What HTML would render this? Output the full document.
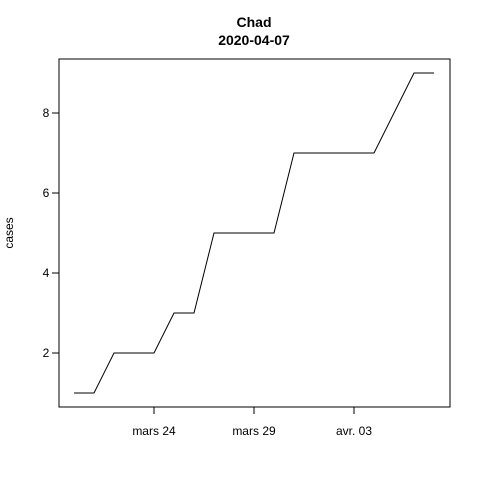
<!DOCTYPE html>
<html><head><meta charset="utf-8"><style>body{margin:0;background:#fff}svg{display:block}text{font-family:"Liberation Sans",sans-serif;font-size:12px;fill:#000}</style></head>
<body>
<svg id="chart" width="480" height="480" viewBox="0 0 480 480">
<rect width="480" height="480" fill="#fff"/>
<text x="254" y="27" text-anchor="middle" style="font-weight:bold;font-size:14px">Chad</text>
<text x="254" y="45" text-anchor="middle" style="font-weight:bold;font-size:14px">2020-04-07</text>
<text transform="translate(13,233) rotate(-90)" text-anchor="middle">cases</text>
<rect x="59" y="59" width="391" height="348" fill="none" stroke="#000"/>
<g id="axes"></g>
<path id="line" fill="none" stroke="#000" stroke-width="1"/>
</svg>
<script>
const days = [0,1,2,3,4,5,6,7,8,9,10,11,12,13,14,15,16,17,18]; // days since Mar 20
const cases = [1,1,2,2,2,3,3,5,5,5,5,7,7,7,7,7,8,9,9];
const yTicks = [2,4,6,8];
const xTickDays = [4,9,14];
const xTickLabels = ["mars 24","mars 29","avr. 03"];
const xs = d => 74 + d*20;
const ys = v => 393 - (v-1)*40;
const ns = "http://www.w3.org/2000/svg";
const g = document.getElementById('axes');
function mk(tag, attrs){const e=document.createElementNS(ns,tag);for(const k in attrs)e.setAttribute(k,attrs[k]);g.appendChild(e);return e;}
yTicks.forEach(v=>{
  const l=mk('line',{x1:52,x2:59,y1:ys(v),y2:ys(v),stroke:'#000'});
  
  
  const t=mk('text',{x:46,y:ys(v)+4,'text-anchor':'middle'});
  t.textContent=v;
  
  
});
xTickDays.forEach((d,i)=>{
  const l=mk('line',{x1:xs(d),x2:xs(d),y1:407,y2:414,stroke:'#000'});
  
  
  const t=mk('text',{x:xs(d),y:435,'text-anchor':'middle'});
  t.textContent=xTickLabels[i];
  
  
});
document.getElementById('line').setAttribute('d', days.map((d,i)=>(i?'L':'M')+xs(d)+','+ys(cases[i])).join(' '));
</script>
</body></html>
